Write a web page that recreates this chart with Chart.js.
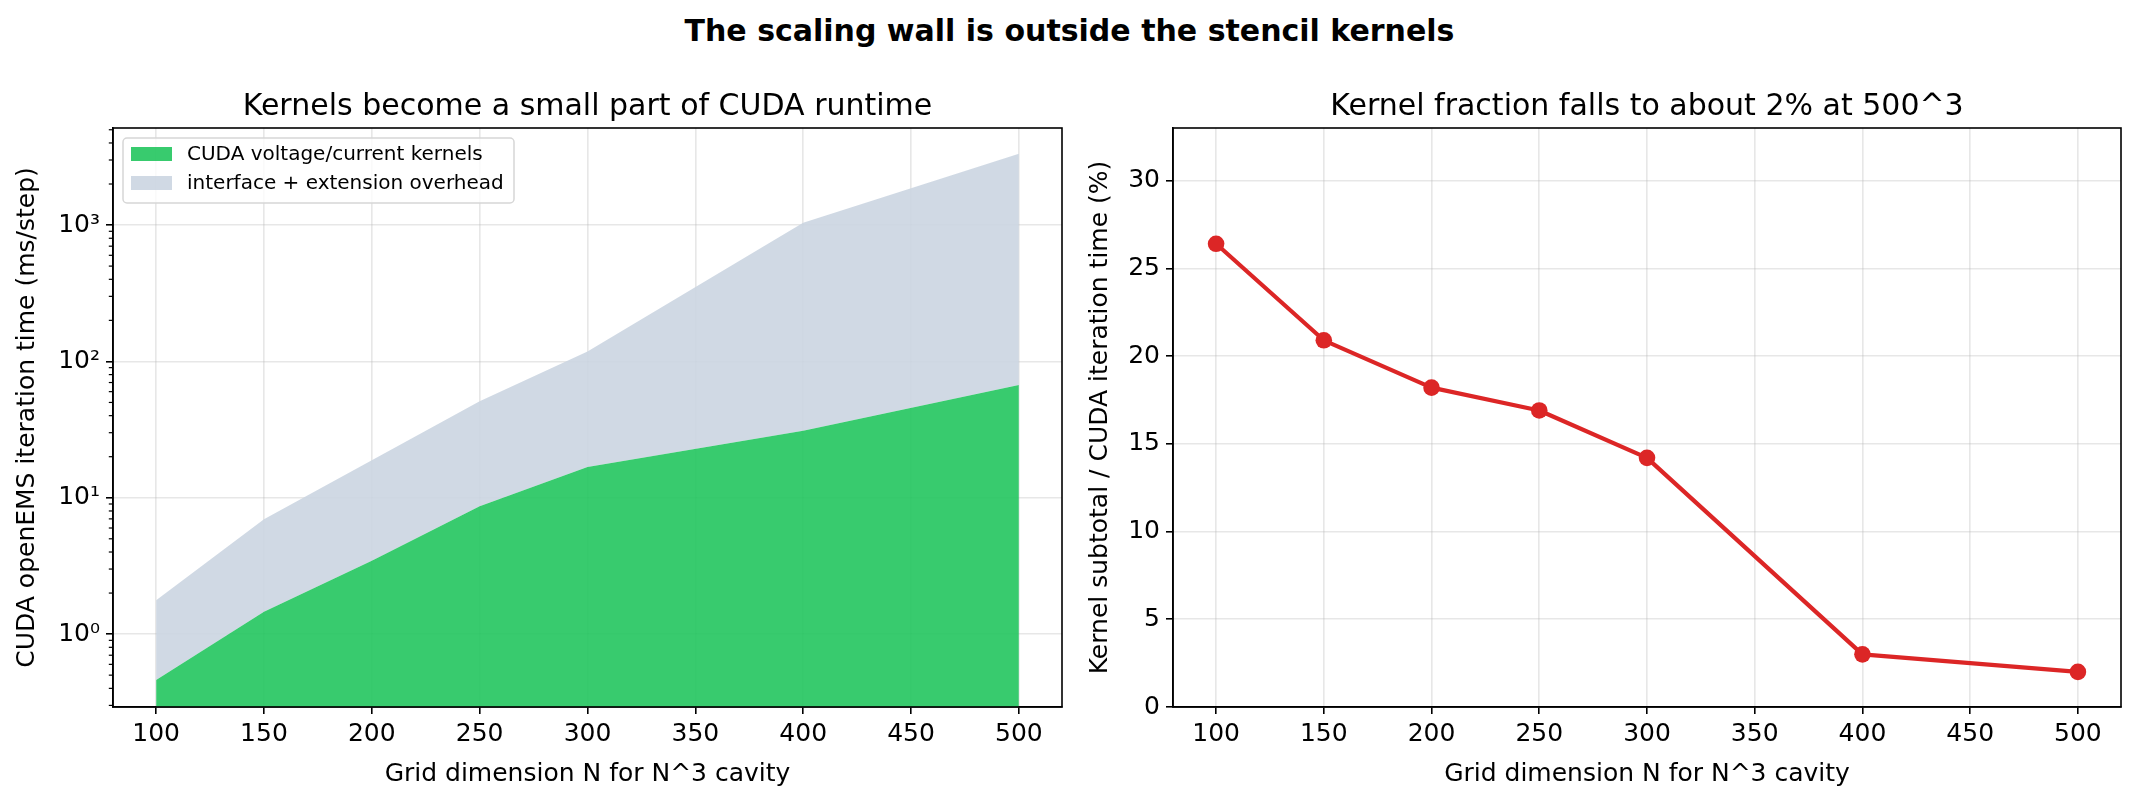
<!DOCTYPE html>
<html>
<head>
<meta charset="utf-8">
<script src="https://cdn.jsdelivr.net/npm/chart.js@4.4.1/dist/chart.umd.min.js"></script>
<style>
  html, body { margin: 0; padding: 0; background: #fff; }
  #wrap { position: relative; width: 2139px; height: 800px; overflow: hidden; }
  #sup { position: absolute; left: 0; top: 16px; width: 2139px; text-align: center;
         font: bold 30px "DejaVu Sans"; line-height: 30px; color: #000; }
  .box { position: absolute; top: 0; height: 800px; }
</style>
</head>
<body>
<div id="wrap">
  <div id="sup">The scaling wall is outside the stencil kernels</div>
  <div class="box" style="left:0; width:1080px"><canvas id="timeChart"></canvas></div>
  <div class="box" style="left:1080px; width:1059px"><canvas id="fracChart"></canvas></div>
</div>
<script>
// grid sizes N (N^3 cavity)
const gridSizes = [100, 150, 200, 250, 300, 400, 500];
// ms per step
const kernelMs = [0.46, 1.46, 3.45, 8.65, 16.8, 31, 67];
const totalMs = [1.77, 6.95, 18.8, 51, 118, 1040, 3330];
// kernel share of the CUDA iteration time, %
const kernelPct = [26.4, 20.9, 18.2, 16.9, 14.2, 3.0, 2.0];

const xTicks = [100, 150, 200, 250, 300, 350, 400, 450, 500];
const pctTicks = [0, 5, 10, 15, 20, 25, 30];

const green = 'rgba(34,197,94,0.9)';
const slate = 'rgba(203,213,225,0.9)';
const red = '#dc2626';
const gridColor = 'rgba(176,176,176,0.3)';
const FONT = 'DejaVu Sans';

Chart.defaults.font.family = FONT;
Chart.defaults.color = '#000';

const supDigits = { '0': '⁰', '1': '¹', '2': '²', '3': '³', '-': '⁻' };
const sup = n => String(n).split('').map(c => supDigits[c]).join('');

const tickFont = { family: FONT, size: 25 };
const labelFont = { family: FONT, size: 25 };

// box around the plot area, like matplotlib spines, plus the axes title
const frame = {
  id: 'frame',
  afterDraw(chart, args, opts) {
    const a = chart.chartArea, ctx = chart.ctx;
    ctx.save();
    ctx.strokeStyle = '#000';
    ctx.lineWidth = 1.6;
    ctx.strokeRect(a.left, a.top, a.right - a.left, a.bottom - a.top);
    ctx.font = '30px "' + FONT + '"';
    ctx.fillStyle = '#000';
    ctx.textAlign = 'center';
    ctx.textBaseline = 'alphabetic';
    ctx.fillText(opts.text, (a.left + a.right) / 2, a.top - 13);
    ctx.restore();
  }
};

// short minor ticks on the log axis
const minorTicks = {
  id: 'minorTicks',
  afterDraw(chart) {
    const s = chart.scales.y, ctx = chart.ctx;
    ctx.save();
    ctx.strokeStyle = '#000';
    ctx.lineWidth = 1.2;
    s.ticks.forEach(t => {
      if (t.major) return;
      const y = s.getPixelForValue(t.value);
      ctx.beginPath();
      ctx.moveTo(s.right, y);
      ctx.lineTo(s.right - 4.2, y);
      ctx.stroke();
    });
    ctx.restore();
  }
};

// legend box in the upper left corner of the plot
const boxLegend = {
  id: 'boxLegend',
  afterDraw(chart) {
    const a = chart.chartArea, ctx = chart.ctx;
    const x0 = a.left + 10, y0 = a.top + 10, w = 391, h = 65;
    ctx.save();
    ctx.beginPath();
    ctx.roundRect(x0, y0, w, h, 4);
    ctx.fillStyle = 'rgba(255,255,255,0.8)';
    ctx.fill();
    ctx.strokeStyle = '#d6d6d6';
    ctx.lineWidth = 1.5;
    ctx.stroke();
    ctx.font = '20px "' + FONT + '"';
    ctx.textBaseline = 'middle';
    chart.data.datasets.forEach((ds, i) => {
      const cy = y0 + 16 + i * 29;
      ctx.fillStyle = ds.backgroundColor;
      ctx.fillRect(x0 + 8, cy - 7, 41, 14);
      ctx.fillStyle = '#000';
      ctx.fillText(ds.label, x0 + 64, cy + 1);
    });
    ctx.restore();
  }
};

new Chart(document.getElementById('timeChart'), {
  type: 'line',
  data: {
    datasets: [
      {
        label: 'CUDA voltage/current kernels',
        data: gridSizes.map((x, i) => ({ x: x, y: kernelMs[i] })),
        fill: 'start',
        backgroundColor: green,
        borderColor: 'transparent',
        borderWidth: 0,
        pointRadius: 0,
        tension: 0
      },
      {
        label: 'interface + extension overhead',
        data: gridSizes.map((x, i) => ({ x: x, y: totalMs[i] })),
        fill: '-1',
        backgroundColor: slate,
        borderColor: 'transparent',
        borderWidth: 0,
        pointRadius: 0,
        tension: 0
      }
    ]
  },
  options: {
    animation: false,
    responsive: true,
    maintainAspectRatio: false,
    layout: { padding: { left: 0, right: 18, top: 128, bottom: 0 } },
    plugins: {
      legend: { display: false },
      tooltip: { enabled: false },
      frame: { text: 'Kernels become a small part of CUDA runtime' }
    },
    scales: {
      x: {
        type: 'linear',
        min: 80,
        max: 520,
        z: 1,
        afterBuildTicks: s => { s.ticks = xTicks.map(v => ({ value: v })); },
        afterFit: s => { s.height = 93; },
        ticks: { font: tickFont, color: '#000', padding: 5, maxRotation: 0, autoSkip: false },
        grid: { color: gridColor, lineWidth: 1.6, tickLength: 7, tickColor: '#000', tickWidth: 1.6 },
        border: { color: '#000', width: 1.6 },
        title: { display: true, text: 'Grid dimension N for N^3 cavity', font: labelFont, color: '#000',
                 padding: { top: 0, bottom: 11 } }
      },
      y: {
        type: 'logarithmic',
        min: 0.292,
        max: 5150,
        z: 1,
        afterBuildTicks: s => {
          const t = [];
          for (let e = -1; e <= 3; e++) {
            for (let m = 1; m <= 9; m++) {
              const v = m * Math.pow(10, e);
              if (v >= s.min && v <= s.max) t.push({ value: v, major: m === 1 });
            }
          }
          s.ticks = t;
        },
        afterFit: s => { s.width = 113; },
        ticks: {
          font: tickFont, color: '#000', padding: 6, autoSkip: false,
          callback: (v, i, ticks) => ticks[i].major ? '10' + sup(Math.round(Math.log10(v))) : ''
        },
        grid: {
          color: c => (c.tick && c.tick.major) ? gridColor : 'transparent',
          lineWidth: 1.6,
          tickLength: 7,
          tickColor: c => (c.tick && c.tick.major) ? '#000' : 'transparent',
          tickWidth: 1.6
        },
        border: { color: '#000', width: 1.6 },
        title: { display: true, text: 'CUDA openEMS iteration time (ms/step)', font: labelFont, color: '#000',
                 padding: { top: 12, bottom: 0 } }
      }
    }
  },
  plugins: [frame, minorTicks, boxLegend]
});

new Chart(document.getElementById('fracChart'), {
  type: 'line',
  data: {
    datasets: [{
      label: 'Kernel fraction',
      data: gridSizes.map((x, i) => ({ x: x, y: kernelPct[i] })),
      borderColor: red,
      backgroundColor: red,
      borderWidth: 4.2,
      borderJoinStyle: 'round',
      pointRadius: 8.3,
      pointBorderWidth: 0,
      pointHoverRadius: 8.3,
      fill: false,
      tension: 0
    }]
  },
  options: {
    animation: false,
    responsive: true,
    maintainAspectRatio: false,
    layout: { padding: { left: 0, right: 18, top: 128, bottom: 0 } },
    plugins: {
      legend: { display: false },
      tooltip: { enabled: false },
      frame: { text: 'Kernel fraction falls to about 2% at 500^3' }
    },
    scales: {
      x: {
        type: 'linear',
        min: 80,
        max: 520,
        afterBuildTicks: s => { s.ticks = xTicks.map(v => ({ value: v })); },
        afterFit: s => { s.height = 93; },
        ticks: { font: tickFont, color: '#000', padding: 5, maxRotation: 0, autoSkip: false },
        grid: { color: gridColor, lineWidth: 1.6, tickLength: 7, tickColor: '#000', tickWidth: 1.6 },
        border: { color: '#000', width: 1.6 },
        title: { display: true, text: 'Grid dimension N for N^3 cavity', font: labelFont, color: '#000',
                 padding: { top: 0, bottom: 11 } }
      },
      y: {
        type: 'linear',
        min: 0,
        max: 33,
        afterBuildTicks: s => { s.ticks = pctTicks.map(v => ({ value: v })); },
        afterFit: s => { s.width = 93; },
        ticks: { font: tickFont, color: '#000', padding: 6, autoSkip: false },
        grid: { color: gridColor, lineWidth: 1.6, tickLength: 7, tickColor: '#000', tickWidth: 1.6 },
        border: { color: '#000', width: 1.6 },
        title: { display: true, text: 'Kernel subtotal / CUDA iteration time (%)', font: labelFont, color: '#000',
                 padding: { top: 5, bottom: 0 } }
      }
    }
  },
  plugins: [frame]
});
</script>
</body>
</html>
